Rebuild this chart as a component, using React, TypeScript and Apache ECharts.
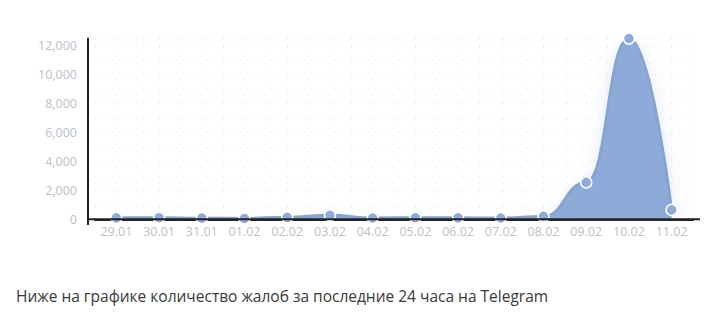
import React, { useEffect, useRef } from "react";
import * as echarts from "echarts";

const categories = ["29.01", "30.01", "31.01", "01.02", "02.02", "03.02", "04.02", "05.02", "06.02", "07.02", "08.02", "09.02", "10.02", "11.02"];
const complaints = [100, 110, 80, 60, 140, 280, 90, 110, 100, 90, 200, 2550, 12500, 650];
const subtitle = "Ниже на графике количество жалоб за последние 24 часа на Telegram";

const FONT = "'Open Sans', sans-serif";
const LABEL = "#bcc0cb";
const FILL = "#8eaad8";
const DOTS = { color: "#e4e6ea", type: [1, 7], width: 1.2 };

export default function App() {
  const ref = useRef<HTMLDivElement>(null);
  useEffect(() => {
    if (!ref.current) return;
    const chart = echarts.init(ref.current, undefined, { renderer: "svg" });
    chart.setOption({
      animation: false,
      textStyle: { fontFamily: FONT },
      title: {
        text: subtitle,
        left: 11,
        top: 283,
        textStyle: { fontSize: 15.5, fontWeight: "normal", color: "#3a3a3a", fontFamily: FONT },
      },
      grid: { left: 95, right: 28, top: 38.5, bottom: 102.7 },
      xAxis: [
        {
          type: "category",
          data: categories,
          boundaryGap: true,
          axisLine: { show: true, onZero: false, lineStyle: { color: "#222", width: 2 } },
          axisTick: { show: false },
          axisLabel: { color: LABEL, fontSize: 12.5, margin: 6, fontFamily: FONT },
          splitLine: { show: false },
        },
        {
          type: "value",
          min: 0,
          max: 28,
          interval: 1,
          position: "top",
          axisLine: { show: false, onZero: false },
          axisTick: { show: false },
          axisLabel: { show: false },
          splitLine: { show: true, lineStyle: DOTS },
        },
      ],
      yAxis: {
        type: "value",
        min: 0,
        max: "dataMax",
        interval: 2000,
        offset: 7,
        axisLine: { show: true, onZero: false, lineStyle: { color: "#222", width: 2 } },
        axisTick: { show: false },
        axisLabel: {
          color: LABEL,
          fontSize: 12.5,
          margin: 11,
          fontFamily: FONT,
          formatter: (v: number) => v.toLocaleString("en-US"),
        },
        splitLine: { show: true, lineStyle: DOTS },
        minorTick: { show: false, splitNumber: 2 },
        minorSplitLine: { show: true, lineStyle: DOTS },
      },
      series: [
        {
          type: "line",
          data: complaints,
          xAxisIndex: 0,
          smooth: 0.5,
          smoothMonotone: "x",
          symbol: "circle",
          symbolSize: 11,
          itemStyle: { color: FILL, borderColor: "#fff", borderWidth: 1.5 },
          lineStyle: { color: "#86a3d3", width: 3 },
          areaStyle: {
            color: FILL,
            opacity: 1,
            shadowColor: "rgba(140,170,216,0.35)",
            shadowBlur: 20,
            shadowOffsetY: 8,
          },
          z: 3,
        },
      ],
      graphic: [
        { type: "line", shape: { x1: 88, y1: 219.3, x2: 700, y2: 219.3 }, style: { stroke: "#222", lineWidth: 2 }, z: 10 },
        { type: "line", shape: { x1: 88, y1: 215, x2: 88, y2: 225 }, style: { stroke: "#222", lineWidth: 2 }, z: 10 },
      ],
    });
    return () => chart.dispose();
  }, []);
  return <div ref={ref} style={{ position: "absolute", left: 0, top: 0, width: 721, height: 322 }} />;
}
